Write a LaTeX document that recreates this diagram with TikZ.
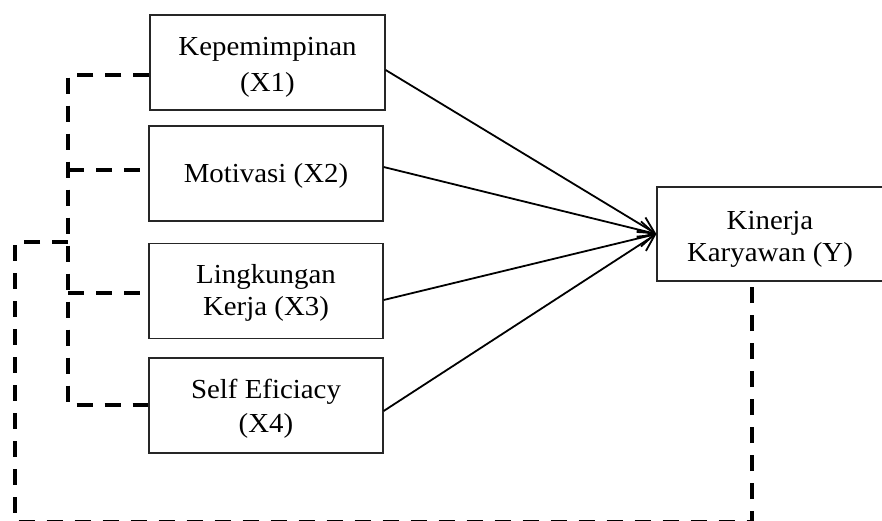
\documentclass[tikz,border=0pt]{standalone}
\usepackage{fontspec}
\setmainfont[FakeStretch=1.05]{Liberation Serif}
\usetikzlibrary{arrows.meta,calc}
\tikzset{
  box/.style={draw=black!85, line width=1.3pt, rectangle, inner sep=0pt,
    align=center, font=\fontsize{27.5}{32}\selectfont},
  xbox/.style={box, minimum width=234pt, minimum height=95pt},
  link/.style={line width=1.8pt, -{Straight Barb[length=16pt,width=17pt,line width=1.8pt]}},
  corr/.style={line width=3.6pt, dash pattern=on 16pt off 12pt},
}
\begin{document}
\begin{tikzpicture}[x=1pt,y=-1pt]
\useasboundingbox (0,0) rectangle (882,520);
\node[xbox, minimum width=235pt] (x1) at (267.5,62.5) {\rule{0pt}{27pt}Kepemimpinan\\[4pt](X1)};
\node[xbox] (x2) at (266,173.5) {\rule{0pt}{23pt}Motivasi (X2)};
\node[xbox] (x3) at (266,291) {\rule{0pt}{23pt}Lingkungan\\Kerja (X3)};
\node[xbox] (x4) at (266,405.5) {\rule{0pt}{25pt}Self Eficiacy\\[2pt](X4)};
\node[box, minimum width=226pt, minimum height=94pt] (y) at (770,234) {\rule{0pt}{29pt}Kinerja\\Karyawan (Y)};
\coordinate (tip) at (y.west);
\draw[link] ([yshift=-7.5pt]x1.east) -- (tip);
\draw[link] ([yshift=6.5pt]x2.east) -- (tip);
\draw[link] ([yshift=-9pt]x3.east) -- (tip);
\draw[link] ([yshift=-5.5pt]x4.east) -- (tip);
% inner correlation bracket
\coordinate (i1) at (68,75);
\coordinate (i2) at (68,170);
\coordinate (i3) at (68,293);
\coordinate (i4) at (68,405);
\coordinate (o1) at (68,242);
\draw[corr] (x1.west |- i1) -- (i1) -- (i4) -- (x4.west |- i4);
\draw[corr] (i2) -- (x2.west |- i2);
\draw[corr] (i3) -- (x3.west |- i3);
% outer correlation
\coordinate (o2) at (15,242);
\coordinate (o3) at (15,521.5);
\coordinate (ys) at ([xshift=-18pt]y.south);
\coordinate (o4) at (ys |- o3);
\draw[corr] (o1) -- (o2) -- (o3) -- (o4) -- (ys);
\end{tikzpicture}
\end{document}
